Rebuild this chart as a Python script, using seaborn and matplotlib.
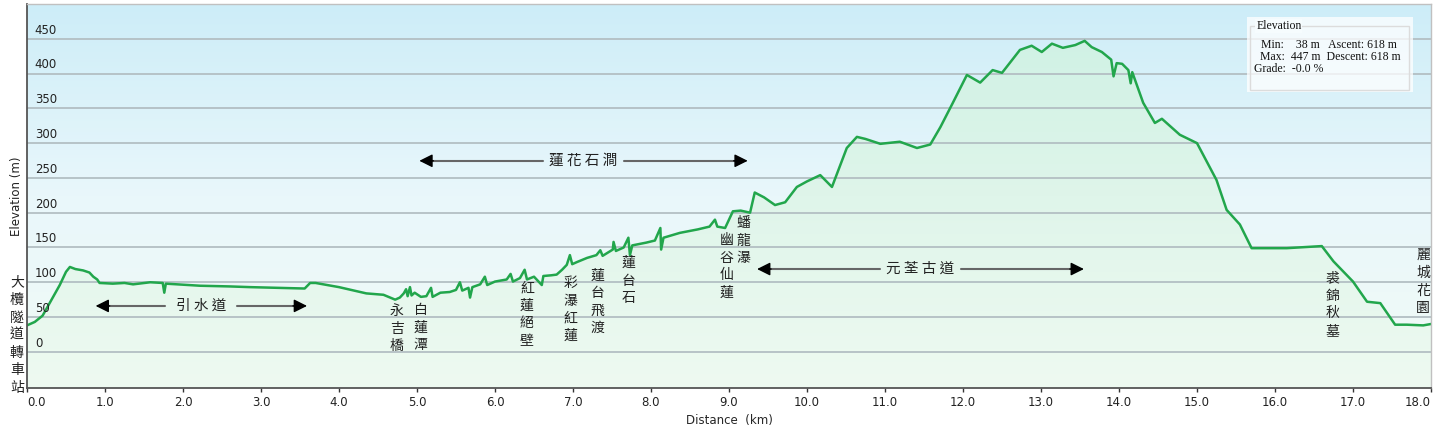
import numpy as np
import matplotlib
matplotlib.use('Agg')
import matplotlib.pyplot as plt
import seaborn as sns
import pandas as pd
from matplotlib.colors import LinearSegmentedColormap
from matplotlib.patches import Polygon, Rectangle

# perfil de elevação (km, m)
dist_km = [0.0, 0.1, 0.2, 0.3, 0.42, 0.5, 0.55, 0.62, 0.72, 0.8, 0.85, 0.9, 0.93,
           1.1, 1.25, 1.36, 1.58, 1.74, 1.76, 1.78, 2.22, 2.6, 2.86, 3.2, 3.56, 3.63, 3.7,
           4.0, 4.35, 4.57, 4.72, 4.78, 4.83, 4.86, 4.88, 4.91, 4.93, 4.97, 5.05, 5.12,
           5.18, 5.2, 5.3, 5.42, 5.5, 5.55, 5.58, 5.66, 5.68, 5.71, 5.81, 5.87, 5.9,
           6.0, 6.15, 6.2, 6.23, 6.32, 6.38, 6.41, 6.5, 6.6, 6.62, 6.72, 6.79, 6.86,
           6.92, 6.96, 6.99, 7.05, 7.18, 7.3, 7.35, 7.38, 7.51, 7.52, 7.55, 7.65, 7.71,
           7.73, 7.76, 7.94, 8.05, 8.12, 8.13, 8.16, 8.37, 8.6, 8.75, 8.82, 8.85, 8.95,
           9.0, 9.05, 9.15, 9.27, 9.33, 9.45, 9.59, 9.72, 9.87,
           10.0, 10.17, 10.32, 10.51, 10.64, 10.75, 10.94, 11.19, 11.41, 11.58, 11.71,
           11.87, 12.05, 12.22, 12.38, 12.5, 12.73, 12.88, 13.01, 13.14, 13.28, 13.44,
           13.56, 13.65, 13.78, 13.9, 13.93, 13.97, 14.04, 14.12, 14.15, 14.17, 14.31,
           14.46, 14.55, 14.78, 15.0,
           15.25, 15.38, 15.55, 15.7, 16.15, 16.6, 16.75, 17.0, 17.18, 17.35, 17.54,
           17.69, 17.9, 18.0]
elev_m = [38, 43, 52, 72, 96, 115, 122, 119, 117, 114, 108, 104, 99,
          98, 99, 97, 100, 99, 85, 98, 95, 94, 93, 92, 91, 99, 99,
          93, 84, 82, 75, 78, 84, 90, 80, 93, 81, 85, 79, 80,
          92, 79, 85, 86, 89, 100, 88, 92, 78, 93, 97, 108, 96,
          101, 104, 112, 101, 106, 118, 104, 108, 96, 109, 110, 111, 118,
          125, 139, 126, 129, 135, 139, 146, 138, 147, 158, 145, 150, 164,
          139, 153, 157, 160, 178, 147, 164, 171, 176, 180, 190, 180, 178,
          190, 202, 203, 200, 229, 222, 211, 215, 237,
          245, 254, 237, 293, 309, 306, 299, 302, 293, 298, 323,
          358, 398, 387, 405, 401, 434, 440, 431, 443, 437, 441,
          447, 438, 431, 420, 396, 415, 414, 405, 386, 402, 358,
          329, 335, 312, 300,
          247, 204, 183, 149, 149, 152, 130, 101, 72, 70, 39,
          39, 38, 40]

# marcos ao longo da trilha
marcos = ['大欖隧道轉車站', '永吉橋', '白蓮潭', '紅蓮絕壁', '彩瀑紅蓮', '蓮台飛渡',
          '蓮台石', '幽谷仙蓮', '蟠龍瀑', '裘錦秋墓', '麗城花園']
marcos_km = [-0.13, 4.74, 5.05, 6.41, 6.97, 7.31, 7.71, 8.97, 9.18, 16.74, 17.9]

# trechos com seta
trechos = ['引 水 道', '蓮 花 石 澗', '元 荃 古 道']
trechos_ini = [0.88, 5.03, 9.36]
trechos_fim = [3.59, 9.24, 13.55]

y_ticks = list(range(0, 451, 50))
x_ticks = list(range(0, 19))

df = pd.DataFrame({'Distance (km)': dist_km, 'Elevation (m)': elev_m})

sns.set_theme(style='white')
plt.rcParams['font.family'] = ['DejaVu Sans', 'Noto Sans CJK TC']
cjk = ['Noto Sans CJK TC', 'DejaVu Sans']

fig = plt.figure(figsize=(14.37, 4.34), dpi=100)
ax = fig.add_axes([27 / 1437, 1 - 388 / 434, 1404 / 1437, 384 / 434])

y0, y1 = -52, 500
ax.set_xlim(0, 18.0)
ax.set_ylim(y0, y1)

# fundo em degradê
grad = np.linspace(1, 0, 256).reshape(-1, 1)
cm_bg = LinearSegmentedColormap.from_list('bg', ['#f1fbf6', '#e9f7fb', '#cdedf8'])
ax.imshow(grad, extent=[0, 18.0, y0, y1], aspect='auto', cmap=cm_bg, vmin=0, vmax=1,
          origin='upper', zorder=0)

# preenchimento sob a curva
cm_fill = LinearSegmentedColormap.from_list('fill', ['#eefaf1', '#dff5ea', '#cdf1e4'])
im = ax.imshow(grad, extent=[0, 18.0, y0, y1], aspect='auto', cmap=cm_fill, vmin=0, vmax=1,
               origin='upper', zorder=0.2)
poly_xy = np.column_stack([[dist_km[0]] + dist_km + [dist_km[-1]],
                           [y0] + elev_m + [y0]])
poly = Polygon(poly_xy, closed=True, facecolor='none', edgecolor='none')
ax.add_patch(poly)
im.set_clip_path(poly)

ax.set_axisbelow('line')
ax.set_yticks(y_ticks)
ax.yaxis.grid(True, color='#b3bfc3', lw=1.3)
ax.xaxis.grid(False)
ax.tick_params(axis='y', length=0, labelleft=False)
ax.set_xticks(x_ticks)
ax.set_xticklabels(['%.1f' % t for t in x_ticks], fontsize=8.5, color='#222222')
ax.tick_params(axis='x', bottom=True, length=3, width=1, color='#333333', pad=2.5)
rot = ax.get_xticklabels()
rot[0].set_ha('left')
rot[-1].set_ha('right')

for v in y_ticks:
    ax.annotate(str(v), xy=(0.1, v), xytext=(0, 1.5), textcoords='offset points',
                fontsize=8.5, color='#222222', va='bottom', ha='left', zorder=3)

sns.lineplot(data=df, x='Distance (km)', y='Elevation (m)', ax=ax, color='#22a64c',
             lw=1.8, zorder=2, sort=False)
ax.set_xlabel('Distance  (km)', fontsize=8.5, labelpad=4)
ax.set_ylabel('')
ax.text(-0.0072, 0.5, 'Elevation (m)', transform=ax.transAxes, rotation=90,
        fontsize=8.5, color='#222222', ha='center', va='center', clip_on=False)

for s in ['left', 'bottom']:
    ax.spines[s].set_color('#555555')
    ax.spines[s].set_linewidth(1.3)
for s in ['top', 'right']:
    ax.spines[s].set_color('#c0c0c0')
    ax.spines[s].set_linewidth(1.0)

# rótulos verticais dos marcos
topos = [110, 68.5, 70, 101.5, 108.5, 120, 137.5, 170.5, 195, 116, 149]
for nome, km, top in zip(marcos, marcos_km, topos):
    ax.text(km, top, '\n'.join(nome), family=cjk, fontsize=10, color='#222222',
            ha='center', va='top', linespacing=1.33, zorder=4, clip_on=False)

# setas dos trechos
trecho_y = [66, 274.6, 119]
for nome, a, b, y in zip(trechos, trechos_ini, trechos_fim, trecho_y):
    meio = (a + b) / 2
    meia = 0.52 if len(nome) > 5 else 0.46
    ax.plot([a + 0.1, meio - meia], [y, y], color='#666666', lw=1.5, zorder=3)
    ax.plot([meio + meia, b - 0.1], [y, y], color='#666666', lw=1.5, zorder=3)
    ax.annotate('', xy=(a, y), xytext=(a + 0.18, y),
                arrowprops=dict(arrowstyle='-|>', color='black', lw=1, mutation_scale=20,
                                shrinkA=0, shrinkB=0), zorder=3)
    ax.annotate('', xy=(b, y), xytext=(b - 0.18, y),
                arrowprops=dict(arrowstyle='-|>', color='black', lw=1, mutation_scale=20,
                                shrinkA=0, shrinkB=0), zorder=3)
    ax.text(meio, y, nome, family=cjk, fontsize=10.5, color='#222222',
            ha='center', va='center', zorder=4)

# caixa de estatísticas
ax.add_patch(Rectangle((0.869, 0.771), 0.118, 0.195, transform=ax.transAxes,
                       facecolor='white', alpha=0.75, edgecolor='none', zorder=5))
ax.add_patch(Rectangle((0.871, 0.776), 0.113, 0.167, transform=ax.transAxes,
                       facecolor='none', edgecolor='#dcdcdc', lw=1, zorder=6))
serif = ['Liberation Serif', 'DejaVu Serif']
ax.text(0.8755, 0.943, 'Elevation', transform=ax.transAxes, family=serif, fontsize=8.5,
        color='#111111', ha='left', va='center', zorder=7,
        bbox=dict(facecolor='#f6fcfe', edgecolor='none', pad=0.5))
linhas = ['Min:    38 m   Ascent: 618 m', 'Max:  447 m  Descent: 618 m', 'Grade:  -0.0 %']
lx = [0.879, 0.878, 0.874]
ly = [0.893, 0.862, 0.830]
for t, x, y in zip(linhas, lx, ly):
    ax.text(x, y, t, transform=ax.transAxes, family=serif, fontsize=8.5,
            color='#111111', ha='left', va='center', zorder=7)

fig.savefig('out.png', dpi=100)
